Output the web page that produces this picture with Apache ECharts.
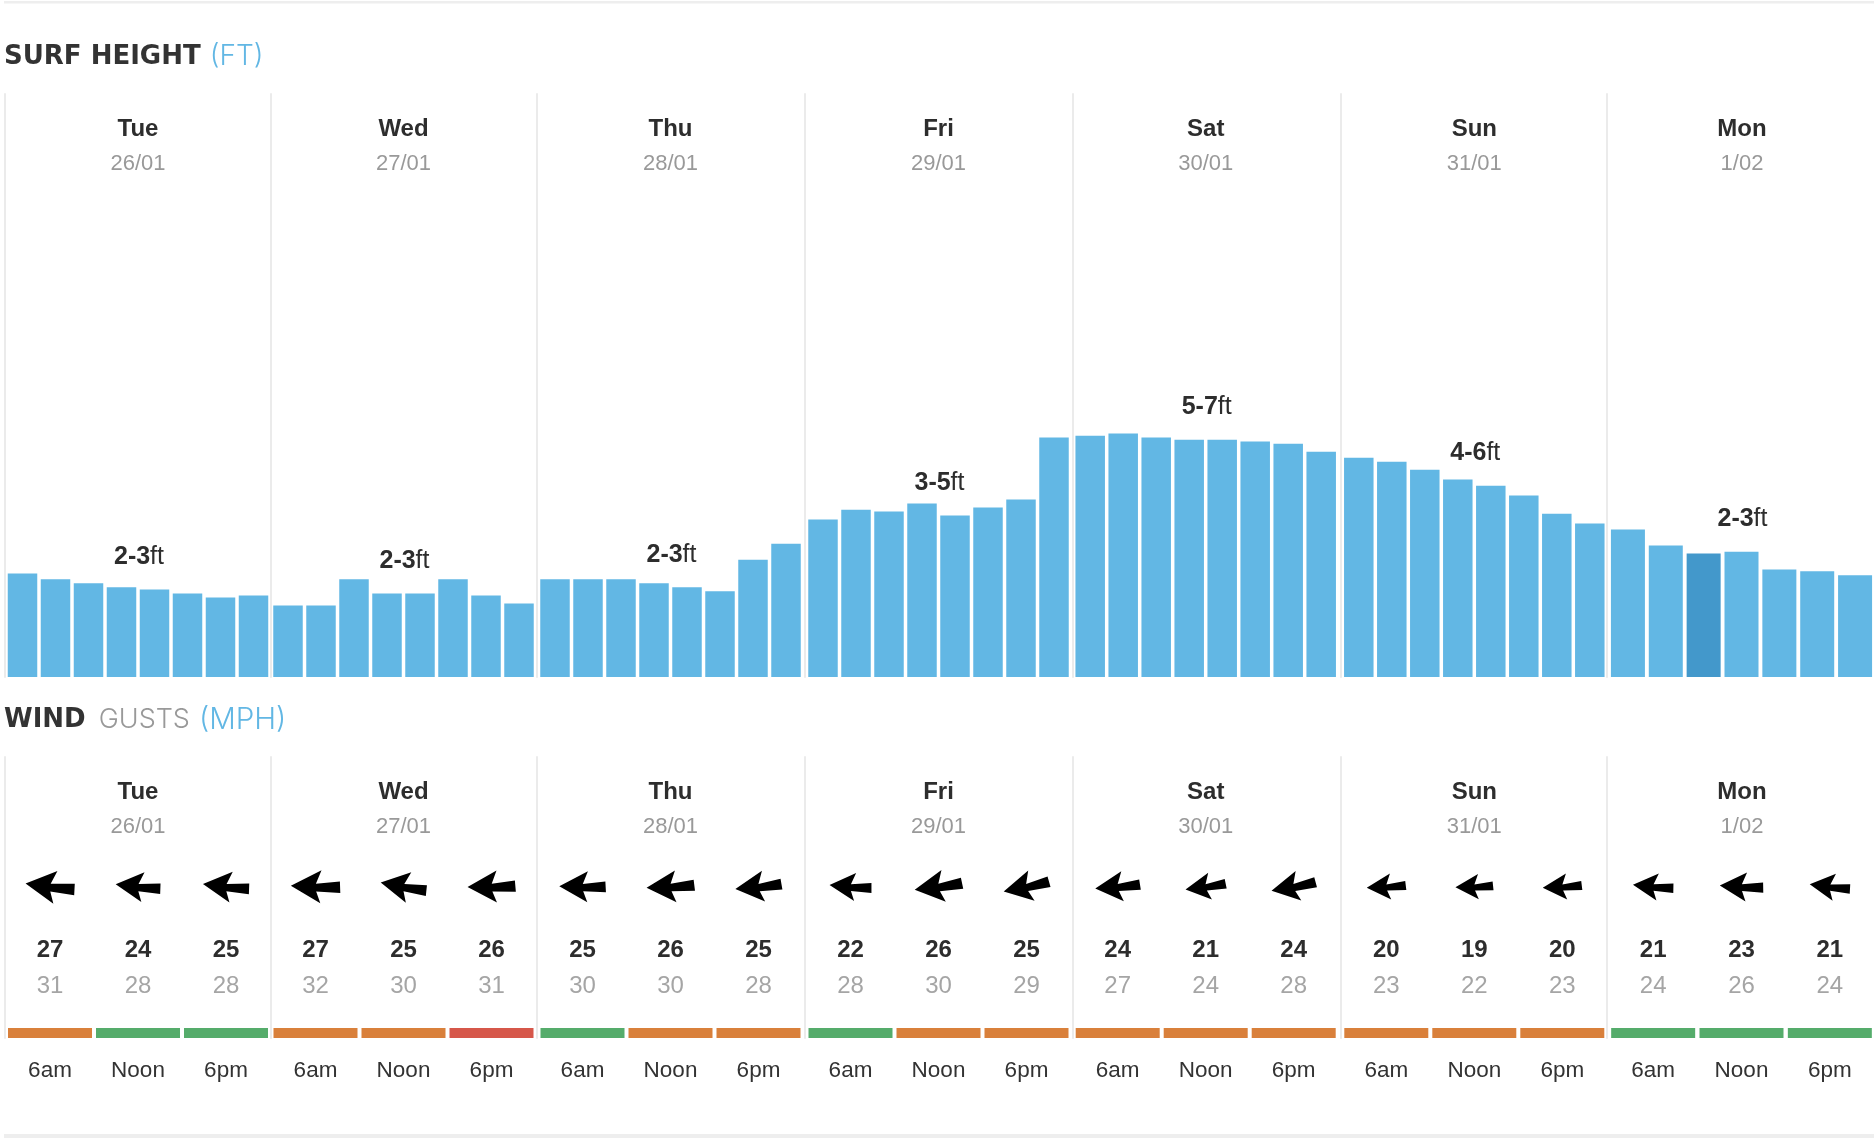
<!DOCTYPE html>
<html>
<head>
<meta charset="utf-8">
<title>Surf height</title>
<script src="https://cdn.jsdelivr.net/npm/echarts@6/dist/echarts.min.js"></script>
<style>
  html, body { margin: 0; padding: 0; background: #fff; }
  #main { width: 1874px; height: 1138px; }
</style>
</head>
<body>
<div id="main"></div>
<script>
  // one entry per day. surf in ft, wind is [speed, gust, direction, rating]
  var days = [
    {name: 'Tue', date: '26/01', line: 4.8, left: 6, range: '2-3', labelY: 3.34,
      surf: [2.84, 2.68, 2.57, 2.46, 2.40, 2.29, 2.18, 2.24],
      wind: [[27, 31, 93, 'o'], [24, 28, 92, 'g'], [25, 28, 92, 'g']]},
    {name: 'Wed', date: '27/01', line: 270.5, left: 271.5, range: '2-3', labelY: 3.23,
      surf: [1.96, 1.96, 2.68, 2.29, 2.29, 2.68, 2.24, 2.02],
      wind: [[27, 32, 88, 'o'], [25, 30, 96, 'o'], [26, 31, 85, 'r']]},
    {name: 'Thu', date: '28/01', line: 536.5, left: 538.5, range: '2-3', labelY: 3.39,
      surf: [2.68, 2.68, 2.68, 2.57, 2.46, 2.35, 3.22, 3.66],
      wind: [[25, 30, 87, 'g'], [26, 30, 83, 'o'], [25, 28, 80, 'o']]},
    {name: 'Fri', date: '29/01', line: 805, left: 806.5, range: '3-5', labelY: 5.38,
      surf: [4.32, 4.59, 4.54, 4.76, 4.43, 4.65, 4.87, 6.57],
      wind: [[22, 28, 90, 'g'], [26, 30, 78, 'o'], [25, 29, 74, 'o']]},
    {name: 'Sat', date: '30/01', line: 1072.5, left: 1073.7, range: '5-7', labelY: 7.46,
      surf: [6.62, 6.68, 6.57, 6.51, 6.51, 6.46, 6.40, 6.18],
      wind: [[24, 27, 81, 'o'], [21, 24, 78, 'o'], [24, 28, 75, 'o']]},
    {name: 'Sun', date: '31/01', line: 1340.5, left: 1342.3, range: '4-6', labelY: 6.20,
      surf: [6.02, 5.91, 5.69, 5.42, 5.25, 4.98, 4.48, 4.21],
      wind: [[20, 23, 83, 'o'], [19, 22, 84, 'o'], [20, 23, 83, 'o']]},
    {name: 'Mon', date: '1/02', line: 1607, left: 1609, range: '2-3', labelY: 4.39, width: 266, current: 2,
      surf: [4.05, 3.61, 3.39, 3.44, 2.95, 2.90, 2.79],
      wind: [[21, 24, 91, 'g'], [23, 26, 89, 'g'], [21, 24, 93, 'g']]}
  ];

  var ratingColor = {g: '#55ac6b', o: '#d9803b', r: '#d6574a'};
  var hours = ['6am', 'Noon', '6pm'];
  var arrow = 'path://M0 42 L92 0 L74 39 L145 35 L145 69 L74 62 L85 97 Z';
  var font = '"Liberation Sans", Arial, sans-serif';

  // rows of the wind block, px above the strip bottom
  var ROW_ARROW = 151, ROW_SPEED = 88, ROW_GUST = 52, ROW_STRIP = 10;
  var SURF_TOP = 94, SURF_BOTTOM = 677, WIND_TOP = 757, WIND_BOTTOM = 1038;

  var headBold = {fontFamily: '"DejaVu Sans"', fontSize: 26, fontWeight: 700, color: '#333'};

  var option = {
    animation: false,
    backgroundColor: '#fff',
    textStyle: {fontFamily: font},
    title: [
      {
        left: 4, top: 43, padding: 0,
        text: '{a|SURF HEIGHT} {c|(FT)}',
        textStyle: {rich: {
          a: headBold,
          c: {fontFamily: 'Inter', fontSize: 28, fontWeight: 300, color: '#62b7e4', padding: [0, 0, 0, 4]}
        }}
      },
      {
        left: 4, top: 705, padding: 0,
        text: '{a|WIND} {b|GUSTS} {c|(MPH)}',
        textStyle: {rich: {
          a: headBold,
          b: {fontFamily: 'Inter', fontSize: 27, fontWeight: 300, color: '#999', padding: [0, 0, 0, 8]},
          c: {fontFamily: 'Inter', fontSize: 29.5, fontWeight: 300, color: '#62b7e4', padding: [0, 0, 0, 4]}
        }}
      }
    ],
    graphic: [
      {type: 'rect', shape: {x: 4, y: 1, width: 1870, height: 2.5}, style: {fill: '#eeeeee'}},
      {type: 'rect', shape: {x: 4, y: 1134, width: 1870, height: 4}, style: {fill: '#eeeeee'}}
    ],
    grid: [],
    xAxis: [],
    yAxis: [],
    series: []
  };

  function dayTitle(day, center, top) {
    return {
      left: center, top: top, padding: 0, textAlign: 'center', itemGap: 11.5,
      text: day.name,
      textStyle: {fontFamily: font, fontSize: 24, fontWeight: 'bold', color: '#2d2d2d'},
      subtext: day.date,
      subtextStyle: {fontFamily: font, fontSize: 22, color: '#999'}
    };
  }

  function dayLine() {
    return {show: true, lineStyle: {color: '#ebebeb', width: 2}};
  }

  for (var i = 0; i < days.length; i++) {
    var day = days[i];
    var width = day.width || 264;
    var center = day.left + width / 2;
    var gridSurf = i * 2, gridWind = i * 2 + 1;
    var even = day.surf.length % 2 == 0;

    option.title.push(dayTitle(day, center, 117));
    option.title.push(dayTitle(day, center, 780));

    // surf
    option.grid.push({left: day.left, width: width, top: SURF_TOP, height: SURF_BOTTOM - SURF_TOP});
    option.xAxis.push({
      gridIndex: gridSurf, type: 'category',
      data: day.surf.map(function (v, k) { return k; }),
      axisLine: {show: false}, axisTick: {show: false}, axisLabel: {show: false}
    });
    option.yAxis.push({
      gridIndex: gridSurf, type: 'value', min: 0, max: 16,
      offset: day.left - day.line,
      axisLine: dayLine(), axisTick: {show: false}, axisLabel: {show: false}, splitLine: {show: false}
    });
    option.series.push({
      type: 'bar', xAxisIndex: gridSurf, yAxisIndex: gridSurf,
      barWidth: even ? 29.5 : 34,
      itemStyle: {color: '#62b7e4'},
      data: day.surf.map(function (v, k) {
        return k === day.current ? {value: v, itemStyle: {color: '#4398cb'}} : v;
      }),
      // the range label sits between two bars when the day has 8
      markPoint: {
        symbolSize: 0,
        data: [{coord: [even ? 4 : 3, day.labelY]}],
        label: {
          show: true, position: 'inside',
          offset: [even ? -15.5 : 1, 2],
          formatter: '{b|' + day.range + '}{n|ft}',
          rich: {
            b: {fontFamily: font, fontSize: 25, fontWeight: 'bold', color: '#2d2d2d'},
            n: {fontFamily: font, fontSize: 25, color: '#2d2d2d'}
          }
        }
      }
    });

    // wind
    option.grid.push({left: day.left, width: width, top: WIND_TOP, height: WIND_BOTTOM - WIND_TOP});
    option.xAxis.push({
      gridIndex: gridWind, type: 'category', data: hours,
      axisLine: {show: false}, axisTick: {show: false},
      axisLabel: {show: true, interval: 0, margin: 21, fontFamily: font, fontSize: 22.5, color: '#333'}
    });
    option.yAxis.push({
      gridIndex: gridWind, type: 'value', min: 0, max: WIND_BOTTOM - WIND_TOP,
      offset: day.left - day.line,
      axisLine: dayLine(), axisTick: {show: false}, axisLabel: {show: false}, splitLine: {show: false}
    });
    option.series.push({
      type: 'bar', xAxisIndex: gridWind, yAxisIndex: gridWind, barWidth: 84,
      data: day.wind.map(function (w) {
        return {value: ROW_STRIP, itemStyle: {color: ratingColor[w[3]]}};
      })
    });
    option.series.push({
      type: 'scatter', xAxisIndex: gridWind, yAxisIndex: gridWind,
      symbol: arrow,
      itemStyle: {color: '#000', opacity: 1},
      data: day.wind.map(function (w, k) {
        var len = w[0] * 1.45 + 10;
        return {value: [k, ROW_ARROW], symbolSize: [len, len * 97 / 145], symbolRotate: 90 - w[2]};
      })
    });
    option.series.push({
      type: 'scatter', xAxisIndex: gridWind, yAxisIndex: gridWind, symbolSize: 0,
      itemStyle: {opacity: 1},
      label: {show: true, position: 'inside', fontFamily: font, fontSize: 24, fontWeight: 'bold', color: '#2d2d2d',
        formatter: function (p) { return p.data[2]; }},
      data: day.wind.map(function (w, k) { return [k, ROW_SPEED, w[0]]; })
    });
    option.series.push({
      type: 'scatter', xAxisIndex: gridWind, yAxisIndex: gridWind, symbolSize: 0,
      itemStyle: {opacity: 1},
      label: {show: true, position: 'inside', fontFamily: font, fontSize: 24, color: '#a5a5a5',
        formatter: function (p) { return p.data[2]; }},
      data: day.wind.map(function (w, k) { return [k, ROW_GUST, w[1]]; })
    });
  }

  var chart = echarts.init(document.getElementById('main'));
  chart.setOption(option);
</script>
</body>
</html>
